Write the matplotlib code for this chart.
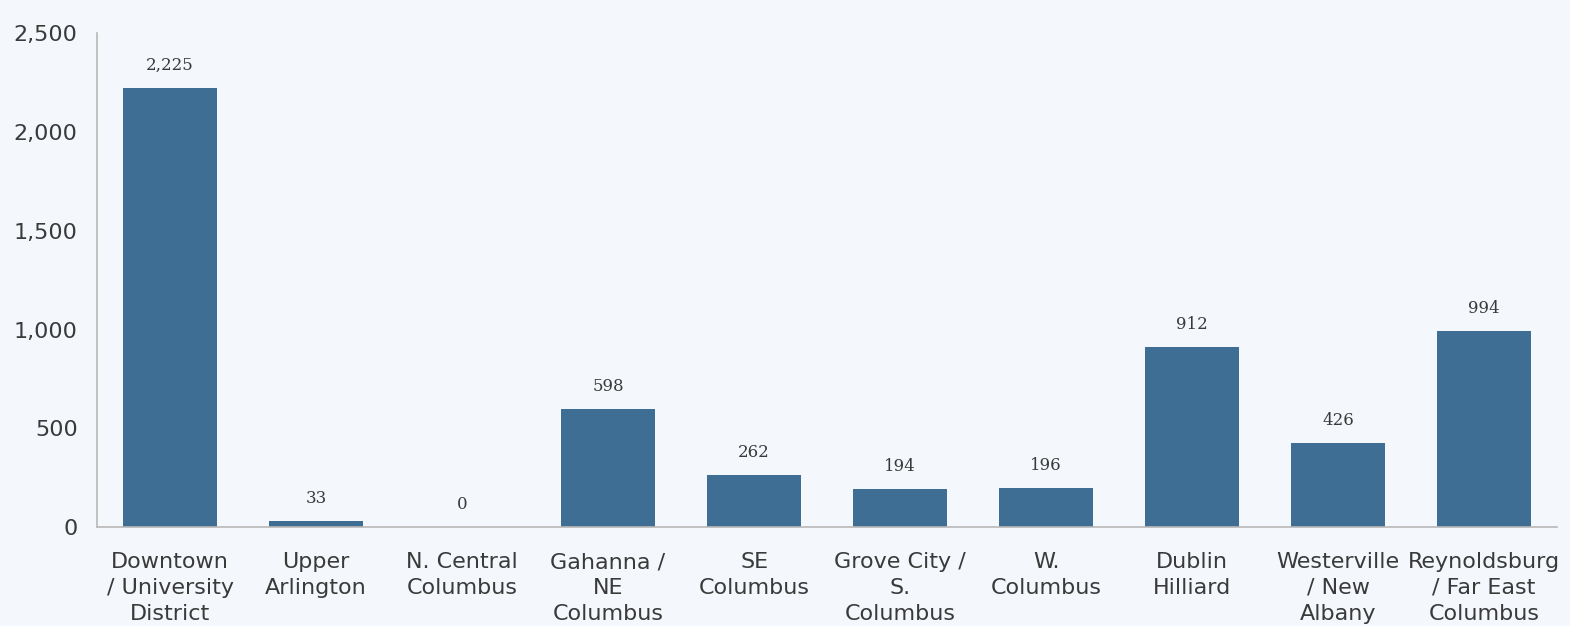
import matplotlib.pyplot as plt
from matplotlib.ticker import FuncFormatter

# data
areas = ['Downtown\n/ University\nDistrict', 'Upper\nArlington', 'N. Central\nColumbus',
         'Gahanna /\nNE\nColumbus', 'SE\nColumbus', 'Grove City /\nS.\nColumbus',
         'W.\nColumbus', 'Dublin\nHilliard', 'Westerville\n/ New\nAlbany',
         'Reynoldsburg\n/ Far East\nColumbus']
counts = [2225, 33, 0, 598, 262, 194, 196, 912, 426, 994]
y_ticks = [0, 500, 1000, 1500, 2000, 2500]

bg = '#f4f8fc'
bar_color = '#3f6e94'
text_color = '#3a3a3a'

fig = plt.figure(figsize=(15.7, 6.26), dpi=100, facecolor=bg)
ax = fig.add_axes([0.0618, 0.158, 0.93, 0.789], facecolor=bg)

x = range(len(areas))
bars = ax.bar(x, counts, width=0.64, color=bar_color)

for rect, val in zip(bars, counts):
    ax.annotate(f'{val:,}', (rect.get_x() + rect.get_width() / 2, rect.get_height()),
                xytext=(0, 10), textcoords='offset points', ha='center', va='bottom',
                fontsize=12, color=text_color, family='DejaVu Serif')

ax.set_xlim(-0.5, 9.5)
ax.set_ylim(0, 2500)
ax.set_yticks(y_ticks)
ax.yaxis.set_major_formatter(FuncFormatter(lambda v, p: f'{int(v):,}'))
ax.set_xticks(list(x))
ax.set_xticklabels(areas, fontsize=16, color=text_color, linespacing=1.36)
ax.tick_params(axis='y', labelsize=16, labelcolor=text_color, length=0, pad=14)
ax.tick_params(axis='x', length=0, pad=18)

for side in ['top', 'right']:
    ax.spines[side].set_visible(False)
for side in ['left', 'bottom']:
    ax.spines[side].set_color('#b8b8b8')
    ax.spines[side].set_linewidth(1.2)

plt.savefig('out.png', dpi=100, facecolor=bg)
